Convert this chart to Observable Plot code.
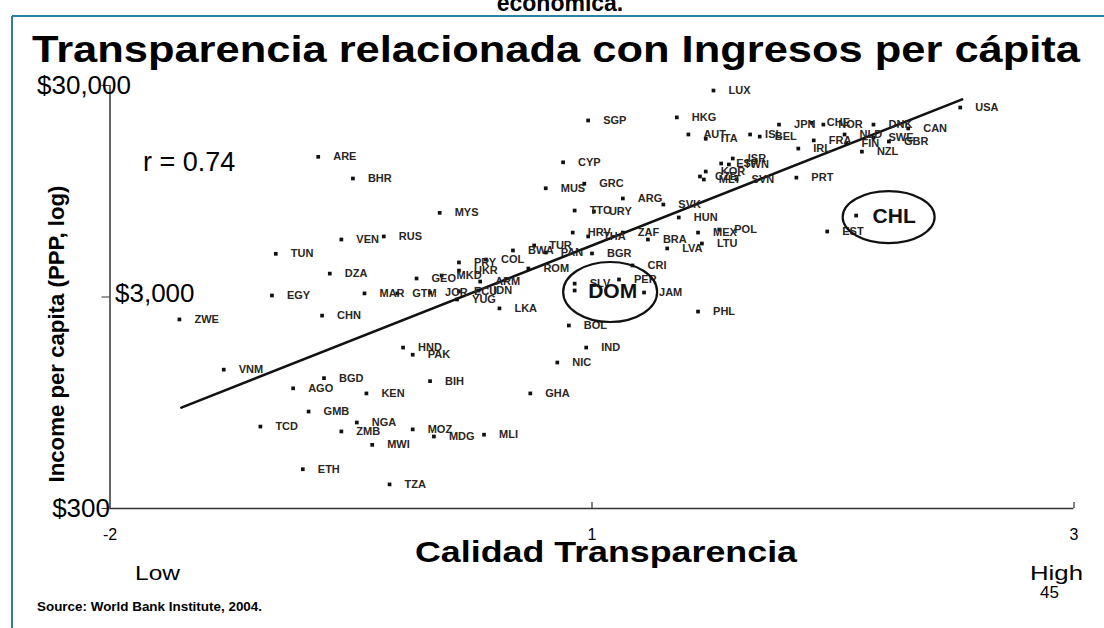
<!DOCTYPE html>
<html><head><meta charset="utf-8">
<script src="https://cdn.jsdelivr.net/npm/d3@7"></script>
<script src="https://cdn.jsdelivr.net/npm/@observablehq/plot@0.6"></script>
<style>
body{margin:0;background:#fff;}
#wrap{position:relative;width:1104px;height:628px;overflow:hidden;background:#fff;font-family:"Liberation Sans",Arial,sans-serif;}
#chart{position:absolute;left:0;top:0;}
#overlay{position:absolute;left:0;top:0;}
</style></head><body>
<div id="wrap"><div id="chart"></div><svg id="overlay" width="1104" height="628" xmlns="http://www.w3.org/2000/svg"></svg></div>
<script>
// ---- data ----
const codes = ["ARE","BHR","MYS","VEN","RUS","TUN","DZA","GEO","EGY","MAR","GTM","JOR","ZWE","CHN","HND","PAK","VNM","BGD","BIH","AGO","KEN","GMB","NGA","TCD","ZMB","MOZ","MDG","MWI","ETH","TZA","LKA","BOL","IND","NIC","GHA","MLI","PHL","LUX","SGP","HKG","AUT","ITA","ISL","BEL","CYP","GRC","MUS","ARG","SVK","TTO","URY","HUN","HRV","THA","ZAF","MEX","POL","LTU","BRA","LVA","TUR","BWA","PAN","BGR","COL","PRY","UKR","ROM","CRI","MKD","ARM","ECU","IDN","YUG","SLV","DOM","PER","JAM","CHL","EST","USA","JPN","CHE","NOR","DNK","CAN","NLD","SWE","GBR","FIN","NZL","FRA","IRL","PRT","ISR","ESP","TWN","KOR","CZE","MLT","SVN"];
const transparency = [-1.42,-1.24,-0.79,-1.30,-1.08,-1.64,-1.36,-0.91,-1.66,-1.18,-1.01,-0.84,-2.14,-1.40,-0.98,-0.93,-1.91,-1.39,-0.84,-1.55,-1.17,-1.47,-1.22,-1.72,-1.30,-0.93,-0.82,-1.14,-1.50,-1.05,-0.48,-0.12,-0.03,-0.18,-0.32,-0.56,0.55,0.63,-0.02,0.44,0.50,0.59,0.82,0.87,-0.15,-0.04,-0.24,0.16,0.37,-0.09,0.01,0.45,-0.10,-0.02,0.16,0.55,0.66,0.57,0.29,0.39,-0.30,-0.41,-0.24,0.00,-0.55,-0.69,-0.69,-0.33,0.21,-0.78,-0.58,-0.69,-0.59,-0.70,-0.09,-0.09,0.14,0.27,1.37,1.22,1.91,0.97,1.14,1.20,1.46,1.64,1.31,1.46,1.54,1.32,1.40,1.15,1.07,1.06,0.73,0.67,0.71,0.59,0.56,0.58,0.75];
const income = [13800,10900,7500,5610,5800,4800,3870,3670,3050,3120,3120,3150,2350,2450,1730,1600,1360,1240,1200,1110,1050,862,765,732,694,710,657,600,460,390,2650,2200,1730,1470,1050,670,2560,28400,20500,21200,17600,16800,17600,17200,13000,10300,9800,8770,8210,7690,7610,7130,6050,5800,6050,6050,6250,5370,5610,5090,5260,4980,4870,4820,4510,4370,4000,4090,4230,3790,3550,3190,3220,2920,3470,3220,3630,3150,7280,6120,23600,19600,20000,19600,19600,18800,17600,17000,16300,16000,14600,16500,15100,11000,13550,12830,12700,11760,11140,10780,10800];
const highlighted = ["DOM","CHL"];
const fitX = [-2.13, 1.92];
const fitY = [900, 25800];
const xTicks = [-2.5, 0, 2.5];
const xTickLabels = ["-2","1","3"];
const yTicks = [30000, 3000, 300];
const yTickLabels = ["$30,000","$3,000","$300"];
const correlationText = "r = 0.74";

// ---- layout & style ----
const W = 1104, H = 628, mL = 109.5, mR = 30.5, mT = 85, mB = 120;
const innerH = H - mT - mB;
const ink = "#111", axisInk = "#333", labelInk = "#2a2622";
const font = "'Liberation Sans', Arial, sans-serif";
const ns = "http://www.w3.org/2000/svg";

const data = codes.map((c, i) => ({code: c, x: transparency[i], y: income[i]}));
const small = data.filter(d => !highlighted.includes(d.code));
const big = data.filter(d => highlighted.includes(d.code));
const fit = fitX.map((x, i) => ({x, y: fitY[i]}));

const ellipseStyle = {DOM: {dx: 36, dy: 2, rx: 47, ry: 30}, CHL: {dx: 33, dy: 2, rx: 46, ry: 26}};
const yLabelPlace = [{anchor: "end", dx: 21, dy: 0}, {anchor: "start", dx: 5, dy: -3}, {anchor: "end", dx: 0, dy: 0}];

function ellipses(index, scales) {
  const g = document.createElementNS(ns, "g");
  for (const d of big) {
    const s = ellipseStyle[d.code];
    const e = document.createElementNS(ns, "ellipse");
    e.setAttribute("cx", scales.x(d.x) + s.dx);
    e.setAttribute("cy", scales.y(d.y) + s.dy);
    e.setAttribute("rx", s.rx);
    e.setAttribute("ry", s.ry);
    e.setAttribute("fill", "none");
    e.setAttribute("stroke", ink);
    e.setAttribute("stroke-width", 2.2);
    g.appendChild(e);
  }
  return g;
}

const marks = [
  Plot.ruleX([xTicks[0]], {stroke: axisInk, strokeWidth: 1.5}),
  Plot.ruleY([yTicks[2]], {stroke: axisInk, strokeWidth: 1.5}),
  Plot.ruleX(xTicks.slice(1), {stroke: axisInk, strokeWidth: 1.2, insetTop: innerH - 6}),
  Plot.axisY({ticks: yTicks, tickSize: 8, tickFormat: () => "", label: null, stroke: axisInk}),
  Plot.text(xTickLabels, {x: (d, i) => xTicks[i], y: () => yTicks[2], text: d => d, dy: 26, fontSize: 16, fill: "#000"}),
  ...yTickLabels.map((lab, i) => Plot.text([lab], {x: () => xTicks[0], y: () => yTicks[i], text: d => d, textAnchor: yLabelPlace[i].anchor, dx: yLabelPlace[i].dx, dy: yLabelPlace[i].dy, fontSize: 26, fill: "#000"})),
  Plot.line(fit, {x: "x", y: "y", stroke: ink, strokeWidth: 2.6}),
  Plot.dot(data, {x: "x", y: "y", symbol: "square", r: 2.1, fill: ink, stroke: "none"}),
  Plot.text(small, {x: "x", y: "y", text: "code", dx: 15, textAnchor: "start", fontSize: 11, fontWeight: "bold", fill: labelInk}),
  ellipses,
  Plot.text(big, {x: "x", y: "y", text: "code", dx: 38, dy: 1, fontSize: 21, fontWeight: "bold", fill: ink})
];

const chart = Plot.plot({
  width: W, height: H,
  marginLeft: mL, marginRight: mR, marginTop: mT, marginBottom: mB,
  style: {background: "transparent", overflow: "visible", fontFamily: font},
  x: {domain: [xTicks[0], xTicks[2]], axis: null},
  y: {type: "log", domain: [yTicks[2], yTicks[0]], axis: null},
  marks
});
document.getElementById("chart").appendChild(chart);

// ---- slide texts & frame ----
const ov = document.getElementById("overlay");
function line(x1, y1, x2, y2, stroke, w) {
  const l = document.createElementNS(ns, "line");
  l.setAttribute("x1", x1); l.setAttribute("y1", y1); l.setAttribute("x2", x2); l.setAttribute("y2", y2);
  l.setAttribute("stroke", stroke); l.setAttribute("stroke-width", w);
  ov.appendChild(l);
}
function txt(s, x, y, size, weight, anchor, rotate, len) {
  const t = document.createElementNS(ns, "text");
  t.textContent = s;
  t.setAttribute("font-family", font);
  t.setAttribute("font-size", size);
  t.setAttribute("font-weight", weight);
  t.setAttribute("text-anchor", anchor);
  t.setAttribute("fill", "#000");
  if (len) { t.setAttribute("textLength", len); t.setAttribute("lengthAdjust", "spacingAndGlyphs"); }
  if (rotate) t.setAttribute("transform", `translate(${x},${y}) rotate(${rotate})`);
  else { t.setAttribute("x", x); t.setAttribute("y", y); }
  ov.appendChild(t);
}
const frame = "#2f7fa3";
line(12, 16, W, 16, frame, 2);
line(12, 16, 12, H, frame, 2);
txt("económica.", 560, 11, 23, "bold", "middle");
txt("Transparencia relacionada con Ingresos per cápita", 32, 62, 36, "bold", "start", 0, 1048);
txt(correlationText, 143, 171, 27, "normal", "start");
txt("Income per capita (PPP, log)", 64, 334, 22, "bold", "middle", -90, 297);
txt("Calidad Transparencia", 606, 562, 30, "bold", "middle", 0, 382);
txt("Low", 135, 580, 21, "normal", "start", 0, 45);
txt("High", 1030, 580, 21, "normal", "start", 0, 53);
txt("45", 1040, 598, 17, "normal", "start");
txt("Source: World Bank Institute, 2004.", 37, 611, 13, "bold", "start", 0, 225);
</script>
</body></html>
